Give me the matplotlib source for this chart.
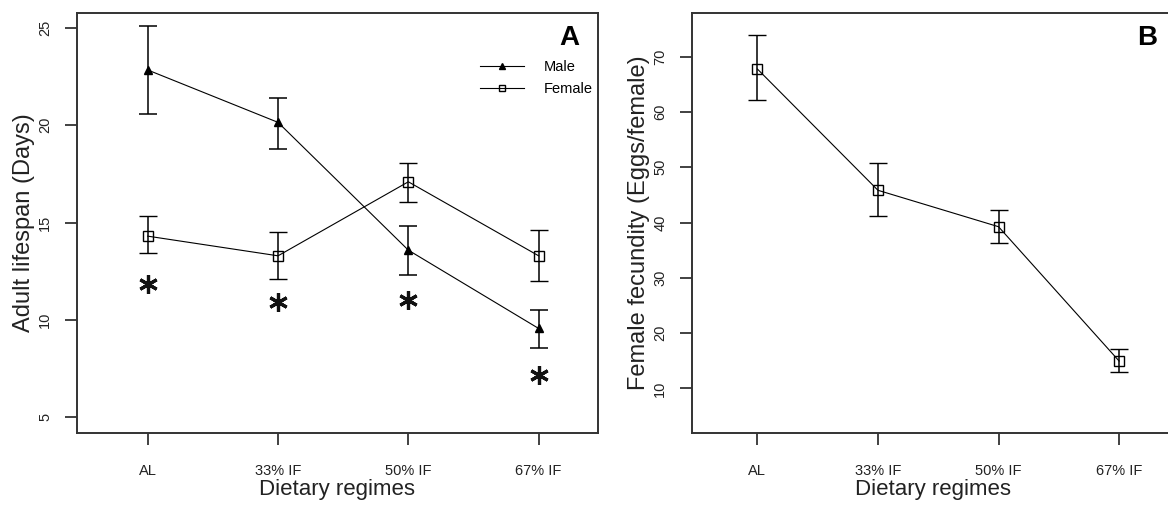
import matplotlib
matplotlib.use('Agg')
import matplotlib.pyplot as plt

plt.rcParams['font.family'] = ['Liberation Sans', 'DejaVu Sans']

regimes = ['AL', '33% IF', '50% IF', '67% IF']

# panel A: adult lifespan (days)
male_mean = [22.83, 20.14, 13.58, 9.56]
male_hi = [25.09, 21.40, 14.80, 10.50]
male_lo = [20.55, 18.77, 12.30, 8.57]
female_mean = [14.30, 13.29, 17.09, 13.29]
female_hi = [15.33, 14.49, 18.05, 14.64]
female_lo = [13.41, 12.08, 16.05, 11.99]
star_y = [11.83, 10.93, 11.01, 7.16]

# panel B: female fecundity (eggs/female)
fec_mean = [67.77, 45.83, 39.24, 14.94]
fec_hi = [73.93, 50.77, 42.26, 17.06]
fec_lo = [62.17, 41.23, 36.29, 12.95]

W, H = 1168, 507
fig = plt.figure(figsize=(W / 100, H / 100), dpi=100)
axA = fig.add_axes([76.7 / W, 1 - 432.7 / H, 521 / W, 420 / H])
axB = fig.add_axes([691.7 / W, 1 - 432.7 / H, 482 / W, 420 / H])

xs = list(range(1, len(regimes) + 1))
line_kw = dict(color='black', lw=0.8, capsize=6.5, elinewidth=1.1, capthick=1.1, ecolor='black')


def yerr(mean, lo, hi):
    return [[m - l for m, l in zip(mean, lo)], [h - m for m, h in zip(mean, hi)]]


eb_m = axA.errorbar(xs, male_mean, yerr=yerr(male_mean, male_lo, male_hi), marker='^', ms=6,
                    mfc='black', mec='black', label='Male', **line_kw)
eb_f = axA.errorbar(xs, female_mean, yerr=yerr(female_mean, female_lo, female_hi), marker='s', ms=6.5,
                    mfc='none', mec='black', mew=1.0, label='Female', **line_kw)
axA.plot(xs, star_y, linestyle='none', marker=(6, 2, 0), ms=13.5, mew=2.3, color='#111111')

axB.errorbar(xs, fec_mean, yerr=yerr(fec_mean, fec_lo, fec_hi), marker='s', ms=6.5,
             mfc='none', mec='black', mew=1.0, **line_kw)

axA.set_ylim(4.21, 25.77)
axA.set_yticks([5, 10, 15, 20, 25])
axB.set_ylim(1.97, 77.96)
axB.set_yticks([10, 20, 30, 40, 50, 60, 70])

for ax, ylab, tag in [(axA, 'Adult lifespan (Days)', 'A'), (axB, 'Female fecundity (Eggs/female)', 'B')]:
    ax.set_xlim(0.455, 4.453)
    ax.set_xticks(xs)
    ax.set_xticklabels(regimes)
    for s in ax.spines.values():
        s.set_linewidth(1.4)
        s.set_color('#333333')
    ax.tick_params(axis='both', length=8.6, width=1.3, color='#333333', labelcolor='#222222', labelsize=10.5)
    ax.tick_params(axis='x', pad=14)
    ax.tick_params(axis='y', pad=9)
    for lab in ax.get_yticklabels():
        lab.set_rotation(90)
        lab.set_va('center')
    ax.set_xlabel('Dietary regimes', fontsize=16, color='#222222')
    ax.xaxis.label.set_va('center')
    ax.xaxis.set_label_coords(0.5, -0.136)
    ax.set_ylabel(ylab, fontsize=17, color='#222222')
    ax.yaxis.label.set_va('center')
    ax.yaxis.set_label_coords(-53 / (ax.get_position().width * W), 0.5)
    ax.text(0.9455, 0.939, tag, transform=ax.transAxes, fontsize=20, fontweight='bold',
            ha='center', va='center')

axA.legend(handles=[eb_m[0], eb_f[0]], labels=['Male', 'Female'], loc='upper left',
           bbox_to_anchor=(0.774, 0.888), frameon=False, fontsize=10.5,
           handlelength=3.0, handletextpad=1.4, labelspacing=0.55, borderpad=0, borderaxespad=0,
           markerscale=0.75)

fig.savefig('out.png', dpi=100)
